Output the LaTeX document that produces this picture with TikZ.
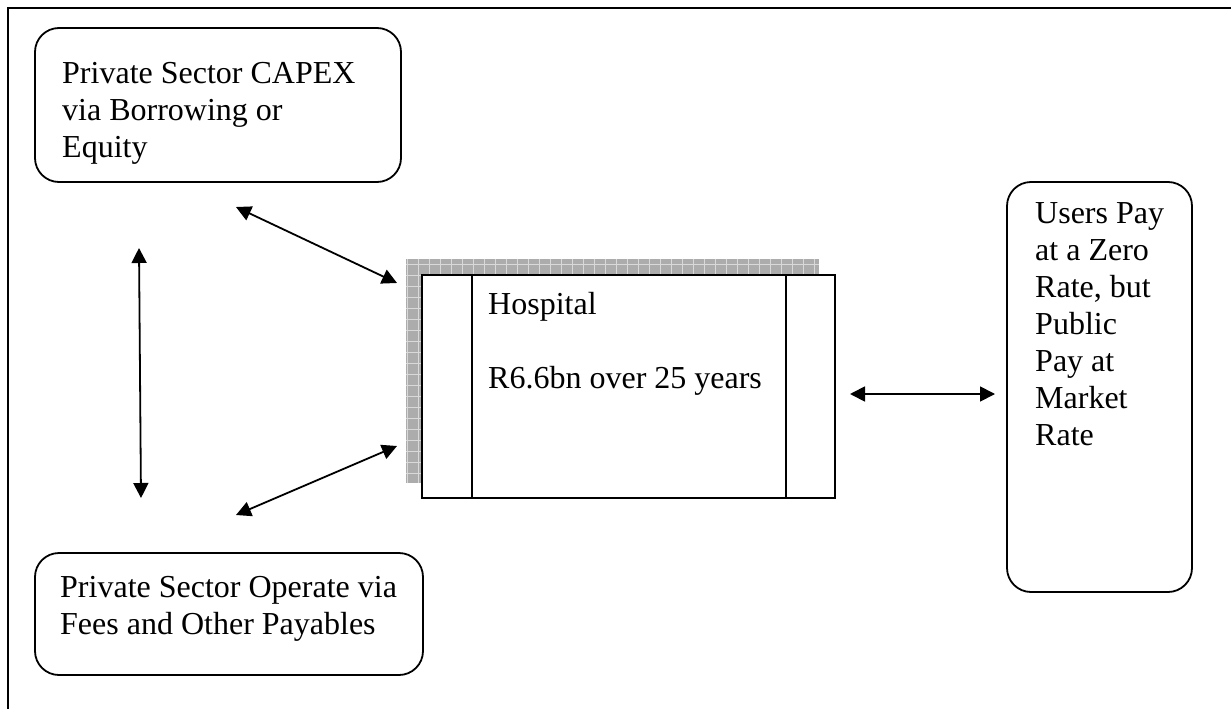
\documentclass[tikz,border=0pt]{standalone}
\usepackage{fontspec}
\setmainfont{Liberation Serif}
\usetikzlibrary{arrows.meta,positioning}

\begin{document}
\begin{tikzpicture}[x=1pt, y=-1pt,
  rbox/.style={draw, line width=1.8pt, rounded corners=24pt, inner sep=0pt},
  sqbox/.style={draw, line width=1.8pt, fill=white, inner sep=0pt},
  txt/.style={anchor=north west, align=left, inner sep=0pt,
              font=\fontsize{32}{37}\selectfont},
  arr/.style={{Triangle[length=15pt,width=15pt]}-{Triangle[length=15pt,width=15pt]},
              line width=1.8pt},
]
\useasboundingbox (0,0) rectangle (1231,709);
% page frame, open to the right and bottom
\draw[line width=2.2pt] (8,709) -- (8,8) -- (1231,8);

\node[rbox, minimum width=366pt, minimum height=154pt] (capex) at (218,105) {};
\node[txt] at (62,62) {Private Sector CAPEX\\via Borrowing or\\Equity};

\node[rbox, minimum width=388pt, minimum height=122pt] (oper) at (229,614) {};
\node[txt] at (60,576) {Private Sector Operate via\\Fees and Other Payables};

% hospital with hatched shadow behind
\fill[gray!65] (406,259) rectangle (819,483);
\draw[gray!30, line width=0.6pt, step=11pt] (406,259) grid (819,483);
\node[sqbox, minimum width=413pt, minimum height=223pt] (hosp) at (628.5,386.5) {};
\draw[line width=1.8pt] (472,275) -- (472,498) (786,275) -- (786,498);
\node[txt] at (488,292) {Hospital\\[37pt]R6.6bn over 25 years};

\node[rbox, minimum width=185pt, minimum height=410pt] (users) at (1099.5,387) {};
\node[txt] at (1035,202) {Users Pay\\at a Zero\\Rate, but\\Public\\Pay at\\Market\\Rate};

% arrow end points
\coordinate (capexS) at (236,207);
\coordinate (hospNW) at (397,283);
\coordinate (operN) at (236,515);
\coordinate (hospSW) at (397,446);
\coordinate (leftT) at (139,248);
\coordinate (leftB) at (141,498);
\coordinate (hospE) at (850,394);
\coordinate (usersW) at (995,394);

\draw[arr] (capexS) -- (hospNW);
\draw[arr] (operN) -- (hospSW);
\draw[arr] (leftT) -- (leftB);
\draw[arr] (hospE) -- (usersW);
\end{tikzpicture}
\end{document}
